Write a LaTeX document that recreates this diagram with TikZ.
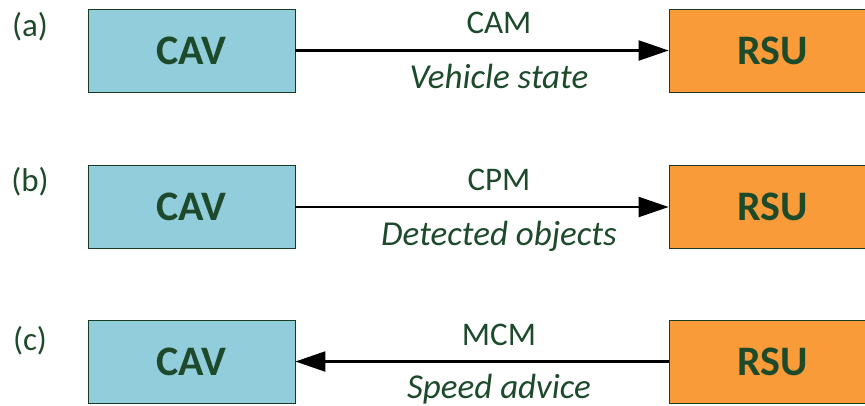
\documentclass[tikz,border=0pt]{standalone}
\usepackage{fontspec}
\setmainfont{Carlito}
\usetikzlibrary{arrows.meta}
\definecolor{txtgreen}{HTML}{1E4A2C}
\definecolor{cavfill}{HTML}{92CDDC}
\definecolor{rsufill}{HTML}{F89B38}
\tikzset{
  boxbase/.style={draw=txtgreen!80!black, line width=0.8pt, minimum width=207pt, minimum height=83pt,
    text=txtgreen, font=\fontsize{42}{48}\selectfont\bfseries, inner sep=0pt},
  cavbox/.style={boxbase, fill=cavfill},
  rsubox/.style={boxbase, fill=rsufill},
  msg/.style={text=txtgreen, font=\fontsize{33}{38}\selectfont, inner sep=0pt, anchor=base},
  cont/.style={text=txtgreen, font=\fontsize{35}{40}\selectfont\itshape, inner sep=0pt, anchor=base},
  tag/.style={text=txtgreen, font=\fontsize{33}{38}\selectfont, inner sep=0pt},
  link/.style={line width=2.2pt, -{Triangle[length=30pt,width=20pt]}}
}
\begin{document}
\begin{tikzpicture}[x=1pt,y=-1pt]
\useasboundingbox (0,0) rectangle (865,405);
\clip (0,0) rectangle (865,405);
% row (a)
\node[tag] (la) at (30,27) {(a)};
\node[cavbox] (cava) at (191.5,50.5) {CAV};
\node[rsubox] (rsua) at (772.5,50.5) {RSU};
\draw[link] (cava.east) -- (rsua.west);
\node[msg] (ma) at (499,33) {CAM};
\node[cont] (ca) at (499,88) {Vehicle state};
% row (b)
\node[tag] (lb) at (30,181.5) {(b)};
\node[cavbox] (cavb) at (191.5,207) {CAV};
\node[rsubox] (rsub) at (772.5,207) {RSU};
\draw[link] (cavb.east) -- (rsub.west);
\node[msg] (mb) at (499,190) {CPM};
\node[cont] (cb) at (499,245) {Detected objects};
% row (c)
\node[tag] (lc) at (30,341) {(c)};
\node[cavbox] (cavc) at (191.5,361.5) {CAV};
\node[rsubox] (rsuc) at (772.5,361.5) {RSU};
\draw[link] (rsuc.west) -- (cavc.east);
\node[msg] (mc) at (499,345) {MCM};
\node[cont] (cc) at (499,398) {Speed advice};
\end{tikzpicture}
\end{document}
